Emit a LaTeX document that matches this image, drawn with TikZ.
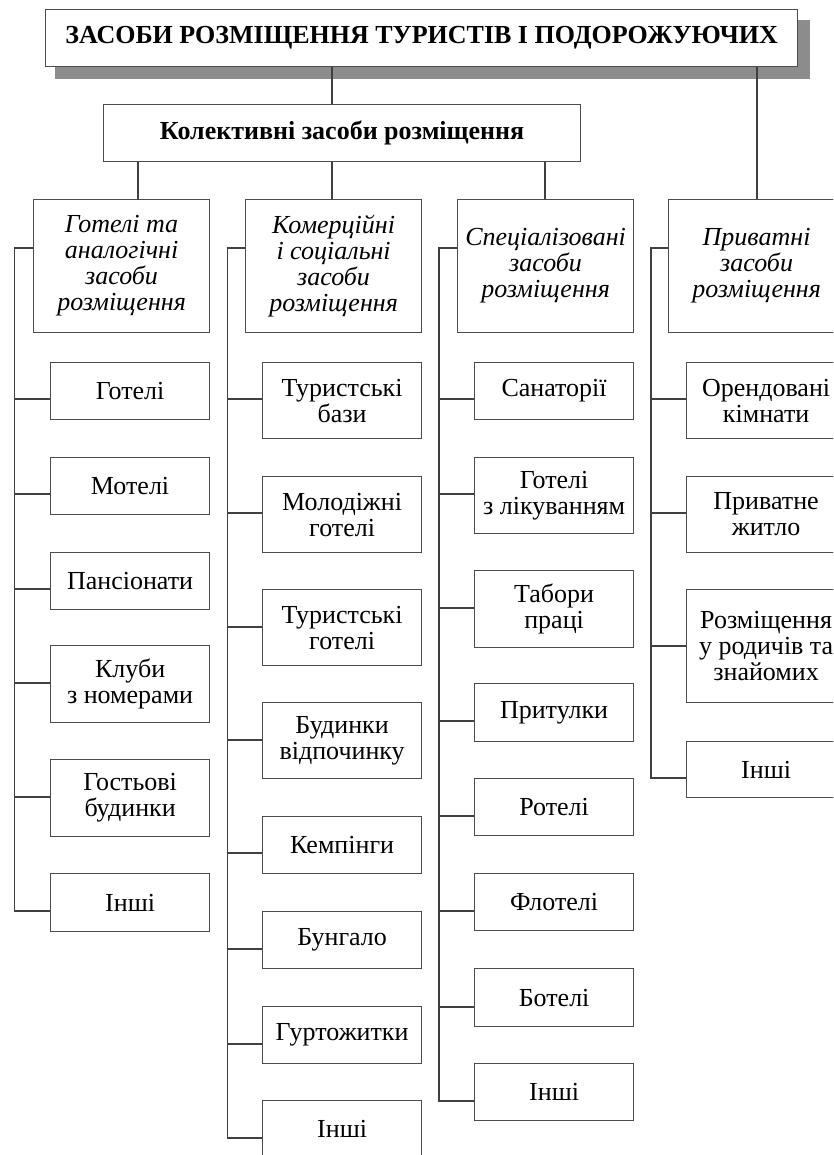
\documentclass[tikz,border=0pt]{standalone}
\usepackage{fontspec}
\setmainfont{Liberation Serif}
\usepackage{tikz}
\usetikzlibrary{positioning,calc}

\begin{document}
\begin{tikzpicture}[
    x=1pt, y=-1pt,
    root/.style={rectangle, draw=black!70, line width=1.2pt, fill=white,
                 anchor=north west, inner sep=0pt, align=center,
                 font=\fontsize{26}{27}\selectfont\bfseries},
    group/.style={rectangle, draw=black!70, line width=1.2pt, anchor=north west,
                  minimum width=176pt, minimum height=133pt, inner sep=0pt,
                  align=center, font=\fontsize{26}{26}\selectfont\itshape},
    leaf/.style={rectangle, draw=black!70, line width=1.2pt, anchor=north west,
                 minimum width=159pt, inner sep=0pt, align=center,
                 font=\fontsize{26}{26}\selectfont},
    link/.style={draw=black!75, line width=1.1pt},
]
    \useasboundingbox (0,0) rectangle (833,1155);
    \clip (0,0) rectangle (833,1155);

    % Top levels
    \fill[black!45] (55,20) rectangle (810,79);
    \node[root, minimum width=752pt, minimum height=57pt] (top) at (45,9)
        {ЗАСОБИ РОЗМІЩЕННЯ ТУРИСТІВ І ПОДОРОЖУЮЧИХ};
    \node[root, minimum width=477pt, minimum height=57pt] (kol) at (103,104)
        {Колективні засоби розміщення};

    % Groups
    \node[group] (hot) at (33,199) {Готелі та\\аналогічні\\засоби\\розміщення};
    \node[group] (com) at (245,199) {Комерційні\\і соціальні\\засоби\\розміщення};
    \node[group] (spe) at (457,199) {Спеціалізовані\\засоби\\розміщення};
    \node[group] (pri) at (668,199) {Приватні\\засоби\\розміщення};

    \coordinate (k1) at (138,0);
    \coordinate (k2) at (332,0);
    \coordinate (k3) at (545,0);
    \coordinate (k4) at (757,0);
    \draw[link] (top.south -| k2) -- (kol.north -| k2);
    \draw[link] (top.south -| k4) -- (pri.north -| k4);
    \draw[link] (kol.south -| k1) -- (hot.north -| k1);
    \draw[link] (kol.south -| k2) -- (com.north -| k2);
    \draw[link] (kol.south -| k3) -- (spe.north -| k3);

    % Hotels
    \node[leaf, minimum height=57pt] (hot1) at (50,362) {Готелі};
    \node[leaf, minimum height=57pt] (hot2) at (50,457) {Мотелі};
    \node[leaf, minimum height=57pt] (hot3) at (50,552) {Пансіонати};
    \node[leaf, minimum height=77pt] (hot4) at (50,645) {Клуби\\з номерами};
    \node[leaf, minimum height=77pt] (hot5) at (50,759) {Гостьові\\будинки};
    \node[leaf, minimum height=58pt] (hot6) at (50,873) {Інші};

    \draw[link] ([yshift=-49pt]hot.north west) -| ([yshift=-38pt,xshift=-35.5pt]hot6.north west)
        -- ([yshift=-38pt]hot6.north west);
    \draw[link] ([yshift=-37pt]hot1.north west) -- ++(-35.5,0);
    \draw[link] ([yshift=-37pt]hot2.north west) -- ++(-35.5,0);
    \draw[link] ([yshift=-37pt]hot3.north west) -- ++(-35.5,0);
    \draw[link] ([yshift=-38pt]hot4.north west) -- ++(-35.5,0);
    \draw[link] ([yshift=-38pt]hot5.north west) -- ++(-35.5,0);

    % Commercial and social
    \node[leaf, minimum height=76pt] (com1) at (262,362) {Туристські\\бази};
    \node[leaf, minimum height=76pt] (com2) at (262,476) {Молодіжні\\готелі};
    \node[leaf, minimum height=76pt] (com3) at (262,589) {Туристські\\готелі};
    \node[leaf, minimum height=76pt] (com4) at (262,702) {Будинки\\відпочинку};
    \node[leaf, minimum height=57pt] (com5) at (262,816) {Кемпінги};
    \node[leaf, minimum height=57pt] (com6) at (262,911) {Бунгало};
    \node[leaf, minimum height=57pt] (com7) at (262,1006) {Гуртожитки};
    \node[leaf, minimum height=57pt] (com8) at (262,1100) {Інші};

    \draw[link] ([yshift=-49pt]com.north west) -| ([yshift=-38pt,xshift=-34.5pt]com8.north west)
        -- ([yshift=-38pt]com8.north west);
    \draw[link] ([yshift=-37pt]com1.north west) -- ++(-34.5,0);
    \draw[link] ([yshift=-37pt]com2.north west) -- ++(-34.5,0);
    \draw[link] ([yshift=-38pt]com3.north west) -- ++(-34.5,0);
    \draw[link] ([yshift=-38pt]com4.north west) -- ++(-34.5,0);
    \draw[link] ([yshift=-37pt]com5.north west) -- ++(-34.5,0);
    \draw[link] ([yshift=-38pt]com6.north west) -- ++(-34.5,0);
    \draw[link] ([yshift=-38pt]com7.north west) -- ++(-34.5,0);

    % Specialised
    \node[leaf, minimum height=57pt] (spe1) at (474,362) {Санаторії};
    \node[leaf, minimum height=76pt] (spe2) at (474,457) {Готелі\\з лікуванням};
    \node[leaf, minimum height=77pt] (spe3) at (474,570) {Табори\\праці};
    \node[leaf, minimum height=58pt] (spe4) at (474,683) {Притулки};
    \node[leaf, minimum height=57pt] (spe5) at (474,778) {Ротелі};
    \node[leaf, minimum height=57pt] (spe6) at (474,873) {Флотелі};
    \node[leaf, minimum height=58pt] (spe7) at (474,968) {Ботелі};
    \node[leaf, minimum height=57pt] (spe8) at (474,1063) {Інші};

    \draw[link] ([yshift=-49pt]spe.north west) -| ([yshift=-38pt,xshift=-35pt]spe8.north west)
        -- ([yshift=-38pt]spe8.north west);
    \draw[link] ([yshift=-37pt]spe1.north west) -- ++(-35,0);
    \draw[link] ([yshift=-37pt]spe2.north west) -- ++(-35,0);
    \draw[link] ([yshift=-38pt]spe3.north west) -- ++(-35,0);
    \draw[link] ([yshift=-38pt]spe4.north west) -- ++(-35,0);
    \draw[link] ([yshift=-38pt]spe5.north west) -- ++(-35,0);
    \draw[link] ([yshift=-38pt]spe6.north west) -- ++(-35,0);
    \draw[link] ([yshift=-39pt]spe7.north west) -- ++(-35,0);

    % Private
    \node[leaf, minimum height=76pt] (pri1) at (686,362) {Орендовані\\кімнати};
    \node[leaf, minimum height=76pt] (pri2) at (686,476) {Приватне\\житло};
    \node[leaf, minimum height=113pt] (pri3) at (686,589) {Розміщення\\у родичів та\\знайомих};
    \node[leaf, minimum height=56pt] (pri4) at (686,741) {Інші};

    \draw[link] ([yshift=-49pt]pri.north west) -| ([yshift=-37pt,xshift=-35pt]pri4.north west)
        -- ([yshift=-37pt]pri4.north west);
    \draw[link] ([yshift=-37pt]pri1.north west) -- ++(-35,0);
    \draw[link] ([yshift=-37pt]pri2.north west) -- ++(-35,0);
    \draw[link] ([yshift=-57pt]pri3.north west) -- ++(-35,0);
\end{tikzpicture}
\end{document}
